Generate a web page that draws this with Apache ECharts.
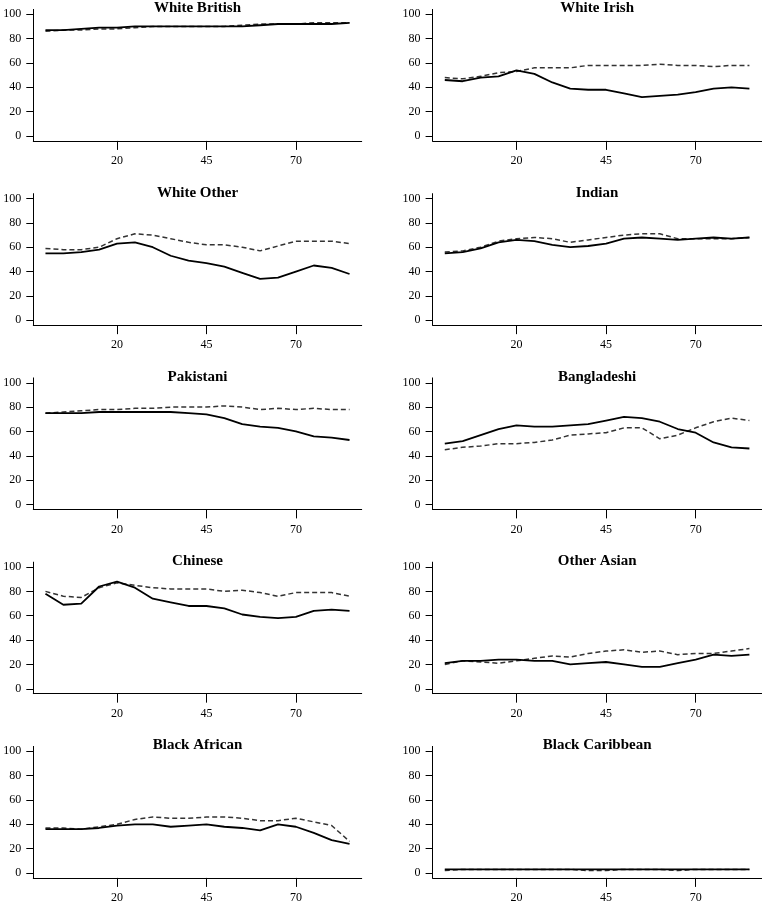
<!DOCTYPE html>
<html>
<head>
<meta charset="utf-8">
<script src="https://cdn.jsdelivr.net/npm/echarts@6/dist/echarts.min.js"></script>
<style>
html,body{margin:0;padding:0;background:#fff;}
#chart{width:765px;height:904px;}
</style>
</head>
<body>
<div id="chart"></div>
<script>
// Age (x) values
const ages = [0,5,10,15,20,25,30,35,40,45,50,55,60,65,70,75,80,85];
const xTicks = [20,45,70];
const yTicks = [0,20,40,60,80,100];

const panelNames = ['White British','White Irish','White Other','Indian','Pakistani','Bangladeshi','Chinese','Other Asian','Black African','Black Caribbean'];

const whiteBritishSolid  = [87,87,88,89,89,90,90,90,90,90,90,90,91,92,92,92,92,93];
const whiteBritishDashed = [86,87,87,88,88,89,90,90,90,90,90,91,92,92,92,93,93,93];

const whiteIrishSolid  = [46,45,48,49,54,51,44,39,38,38,35,32,33,34,36,39,40,39];
const whiteIrishDashed = [48,47,49,52,53,56,56,56,58,58,58,58,59,58,58,57,58,58];

const whiteOtherSolid  = [55,55,56,58,63,64,60,53,49,47,44,39,34,35,40,45,43,38];
const whiteOtherDashed = [59,58,58,60,67,71,70,67,64,62,62,60,57,61,65,65,65,63];

const indianSolid  = [55,56,59,64,66,65,62,60,61,63,67,68,67,66,67,68,67,68];
const indianDashed = [56,57,60,65,67,68,67,64,66,68,70,71,71,67,67,67,67,68];

const pakistaniSolid  = [75,75,75,76,76,76,76,76,75,74,71,66,64,63,60,56,55,53];
const pakistaniDashed = [75,76,77,78,78,79,79,80,80,80,81,80,78,79,78,79,78,78];

const bangladeshiSolid  = [50,52,57,62,65,64,64,65,66,69,72,71,68,62,59,51,47,46];
const bangladeshiDashed = [45,47,48,50,50,51,53,57,58,59,63,63,54,57,63,68,71,69];

const chineseSolid  = [78,69,70,84,88,83,74,71,68,68,66,61,59,58,59,64,65,64];
const chineseDashed = [80,76,75,83,87,85,83,82,82,82,80,81,79,76,79,79,79,76];

const otherAsianSolid  = [21,23,23,24,24,23,23,20,21,22,20,18,18,21,24,28,27,28];
const otherAsianDashed = [20,23,22,21,23,25,27,26,29,31,32,30,31,28,29,29,31,33];

const blackAfricanSolid  = [36,36,36,37,39,40,40,38,39,40,38,37,35,40,38,33,27,24];
const blackAfricanDashed = [37,37,36,38,40,44,46,45,45,46,46,45,43,43,45,42,39,26];

const blackCaribbeanSolid  = [3,3,3,3,3,3,3,3,3,3,3,3,3,3,3,3,3,3];
const blackCaribbeanDashed = [2,3,3,3,3,3,3,3,2,2,3,3,3,2,3,3,3,3];

const solidSeries  = [whiteBritishSolid, whiteIrishSolid, whiteOtherSolid, indianSolid, pakistaniSolid, bangladeshiSolid, chineseSolid, otherAsianSolid, blackAfricanSolid, blackCaribbeanSolid];
const dashedSeries = [whiteBritishDashed, whiteIrishDashed, whiteOtherDashed, indianDashed, pakistaniDashed, bangladeshiDashed, chineseDashed, otherAsianDashed, blackAfricanDashed, blackCaribbeanDashed];

const chart = echarts.init(document.getElementById('chart'), null, {renderer:'canvas'});
const FONT = '"Liberation Serif", "Times New Roman", serif';

const colLeft = [33.3, 432.6];
const colWidth = [328.4, 329];
const rowTop0 = 9.4, rowStep = 184.25, plotH = 131.5;

const grids = [], xAxes = [], yAxes = [], series = [], graphics = [];
panelNames.forEach((name, i) => {
  const col = i % 2, row = Math.floor(i / 2);
  const top = rowTop0 + row * rowStep;
  grids.push({left: colLeft[col], top: top, width: colWidth[col], height: plotH, containLabel: false});
  xAxes.push({
    type: 'value', gridIndex: i, min: -3.4, max: 88.4,
    axisLine: {show: true, onZero: false, lineStyle: {color: '#000', width: 1}},
    axisTick: {show: true, customValues: xTicks, length: 9, lineStyle: {color: '#000', width: 1}},
    axisLabel: {show: true, customValues: xTicks, margin: 14, color: '#000', fontFamily: FONT, fontSize: 12},
    splitLine: {show: false}
  });
  yAxes.push({
    type: 'value', gridIndex: i, min: -4, max: 104,
    axisLine: {show: true, onZero: false, lineStyle: {color: '#000', width: 1}},
    axisTick: {show: true, customValues: yTicks, length: 7, lineStyle: {color: '#000', width: 1}},
    axisLabel: {show: true, customValues: yTicks, margin: 12, color: '#000', fontFamily: FONT, fontSize: 12},
    splitLine: {show: false}
  });
  series.push({
    type: 'line', xAxisIndex: i, yAxisIndex: i, showSymbol: false, symbol: 'none',
    data: ages.map((a, k) => [a, solidSeries[i][k]]),
    lineStyle: {color: '#000', width: 1.8, type: 'solid'}, z: 3
  });
  series.push({
    type: 'line', xAxisIndex: i, yAxisIndex: i, showSymbol: false, symbol: 'none',
    data: ages.map((a, k) => [a, dashedSeries[i][k]]),
    lineStyle: {color: '#333', width: 1.5, type: [5, 3]}, z: 2
  });
  graphics.push({
    type: 'text', x: colLeft[col] + colWidth[col] / 2, y: top - 1,
    style: {text: name, textAlign: 'center', textVerticalAlign: 'middle', fill: '#000', font: 'bold 15px ' + FONT}
  });
});

chart.setOption({
  animation: false,
  backgroundColor: '#fff',
  grid: grids, xAxis: xAxes, yAxis: yAxes, series: series,
  graphic: graphics
});
</script>
</body>
</html>
